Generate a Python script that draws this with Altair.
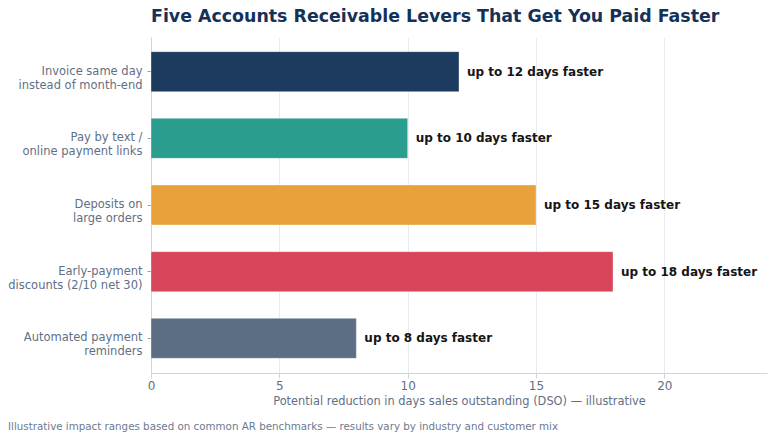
import altair as alt
import pandas as pd

levers = [
    "Invoice same day|instead of month-end",
    "Pay by text /|online payment links",
    "Deposits on|large orders",
    "Early-payment|discounts (2/10 net 30)",
    "Automated payment|reminders",
]
days = [12, 10, 15, 18, 8]
labels = ["up to 12 days faster", "up to 10 days faster", "up to 15 days faster",
          "up to 18 days faster", "up to 8 days faster"]
colors = ["#1d3a5f", "#2a9d8f", "#e9a13b", "#d64559", "#5b6e84"]
x_ticks = [0, 5, 10, 15, 20]

df = pd.DataFrame({"lever": levers, "days": days, "label": labels, "color": colors})

FONT = "DejaVu Sans"

y_enc = alt.Y(
    "lever:N", sort=levers, title=None,
    scale=alt.Scale(paddingInner=0.4, paddingOuter=0.22),
    axis=alt.Axis(labelExpr="split(datum.label, '|')", labelFontSize=11.5,
                  labelColor="#5f6f86", labelFont=FONT, tickColor="#9aa5b4",
                  tickSize=4, labelPadding=5, domainColor="#d0d5dc", labelLineHeight=14),
)
x_enc = alt.X(
    "days:Q", scale=alt.Scale(domain=[0, 24], nice=False),
    title="Potential reduction in days sales outstanding (DSO) — illustrative",
    axis=alt.Axis(values=x_ticks, labelFontSize=12, labelColor="#5f6f86", labelFont=FONT,
                  labelFlush=False,
                  titleFont=FONT, titleFontSize=11.4, titleColor="#5f6f86", titleFontWeight="normal",
                  gridColor="#e8eaee", domainColor="#d0d5dc", tickColor="#d0d5dc",
                  tickSize=5, titlePadding=4),
)

bars = alt.Chart(df).mark_bar(stroke="white", strokeWidth=0.6, strokeOpacity=0.6).encode(
    y=y_enc, x=x_enc,
    color=alt.Color("color:N", scale=None),
)
text = alt.Chart(df).mark_text(align="left", baseline="middle", dx=8, font=FONT,
                               fontSize=12, fontWeight="bold", color="#151515").encode(
    y=alt.Y("lever:N", sort=levers), x="days:Q", text="label:N"
)
foot = alt.Chart(pd.DataFrame({"t": ["Illustrative impact ranges based on common AR benchmarks — results vary by industry and customer mix"]})).mark_text(
    align="left", baseline="middle", font=FONT, fontSize=10.3, color="#6b7a90"
).encode(x=alt.value(-143), y=alt.value(390), text="t:N")

chart = alt.layer(bars, text, foot).properties(
    width=616, height=336,
    title=alt.TitleParams("Five Accounts Receivable Levers That Get You Paid Faster",
                          anchor="start", frame="group", font=FONT, fontSize=17.4, fontWeight="bold",
                          color="#163158", offset=12),
    autosize=alt.AutoSizeParams(type="none"),
    padding={"left": 151, "top": 37, "right": 7, "bottom": 67},
).configure_view(stroke=None)

chart.save("out.html", embed_options={"renderer": "svg", "actions": False})
